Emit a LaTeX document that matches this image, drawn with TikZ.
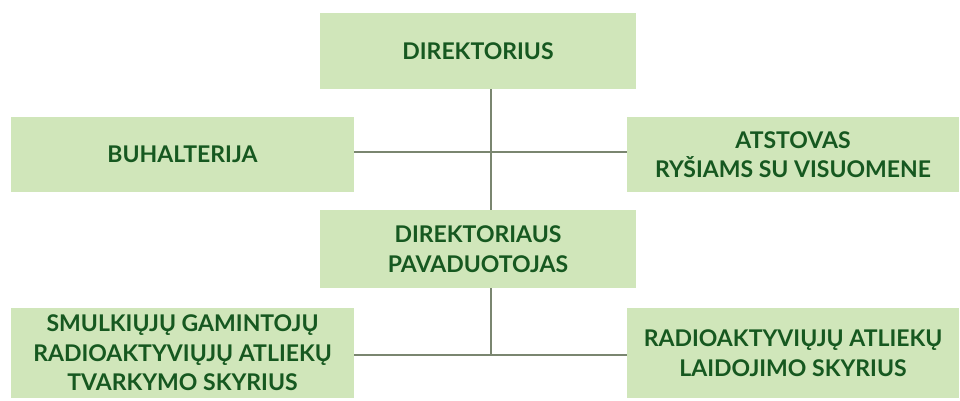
\documentclass[tikz,border=0pt]{standalone}
\usepackage{fontspec}
\setmainfont{Lato}
\usetikzlibrary{positioning}
\definecolor{boxgreen}{RGB}{208,230,186}
\definecolor{inkgreen}{RGB}{22,88,32}
\definecolor{linkgray}{RGB}{122,134,112}
\tikzset{
  unit/.style={fill=boxgreen,draw=none,align=center,inner sep=2pt,
    text=inkgreen,font=\fontsize{23}{29.5}\selectfont\bfseries},
  link/.style={draw=linkgray,line width=2pt}
}

\begin{document}
\begin{tikzpicture}[x=1pt,y=-1pt]
  \useasboundingbox (0,0) rectangle (960,401);
  \node[unit,minimum width=316pt,minimum height=76pt] (dir) at (478,51) {DIREKTORIUS};
  \node[unit,minimum width=316pt,minimum height=78pt] (dep) at (478,249) {DIREKTORIAUS\\PAVADUOTOJAS};
  \node[unit,minimum width=343pt,minimum height=75pt] (buh) at (182.5,154.5) {BUHALTERIJA};
  \node[unit,minimum width=332pt,minimum height=75pt] (ats) at (793,154.5) {ATSTOVAS\\RYŠIAMS SU VISUOMENE};
  \node[unit,minimum width=343pt,minimum height=90pt] (sml) at (182.5,353) {SMULKIŲJŲ GAMINTOJŲ\\RADIOAKTYVIŲJŲ ATLIEKŲ\\TVARKYMO SKYRIUS};
  \node[unit,minimum width=332pt,minimum height=90pt] (lai) at (793,353) {RADIOAKTYVIŲJŲ ATLIEKŲ\\LAIDOJIMO SKYRIUS};
  \coordinate (spine) at (491,0);
  \coordinate (row1) at (0,152);
  \coordinate (row2) at (0,355);
  % vertical spine
  \draw[link] (dir.south -| spine) -- (dep.north -| spine);
  \draw[link] (dep.south -| spine) -- (row2 -| spine);
  % side branches
  \draw[link] (buh.east |- row1) -- (ats.west |- row1);
  \draw[link] (sml.east |- row2) -- (lai.west |- row2);
\end{tikzpicture}
\end{document}
